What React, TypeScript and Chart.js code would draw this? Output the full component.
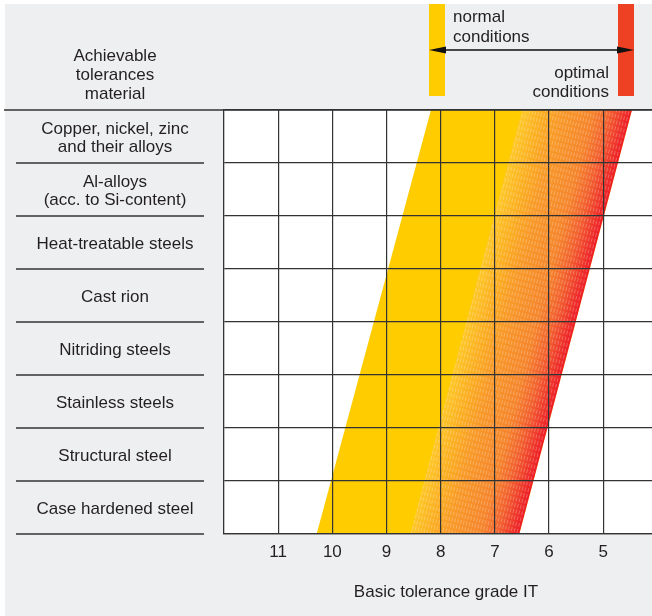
import React, { useEffect, useRef } from 'react';
import { Chart, registerables } from 'chart.js';

Chart.register(...registerables);

// ---------- data ----------
const materials: string[][] = [
  ['Copper, nickel, zinc', 'and their alloys'],
  ['Al-alloys', '(acc. to Si-content)'],
  ['Heat-treatable steels'],
  ['Cast rion'],
  ['Nitriding steels'],
  ['Stainless steels'],
  ['Structural steel'],
  ['Case hardened steel'],
];
const headerLines = ['Achievable', 'tolerances', 'material'];
const itGrades = [11, 10, 9, 8, 7, 6, 5];
const xAxisTitle = 'Basic tolerance grade IT';
const normalLabel = ['normal', 'conditions'];
const optimalLabel = ['optimal', 'conditions'];

// band edges (IT grade) at the top (row edge 0) and bottom (row edge 8) of the grid
const bandRowEdges = [0, 8];
const normalLeftEdge = [8.18, 10.29];
const gradientStartEdge = [6.5, 8.56];
const optimalRightEdge = [4.47, 6.55];

// ---------- styling ----------
const FONT = '17px "Liberation Sans", Arial, Helvetica, sans-serif';
const TEXT = '#231f20';
const LINE = '#333333';
const BG = '#eeeff1';
const YELLOW = '#ffcc00';
const RED = '#ee4023';

const poly = (left: number[], right: number[]) => [
  { x: left[0], y: bandRowEdges[0] },
  { x: right[0], y: bandRowEdges[0] },
  { x: right[1], y: bandRowEdges[1] },
  { x: left[1], y: bandRowEdges[1] },
];

function edgeGeometry(chart: any) {
  const xs = chart.scales.x;
  const ys = chart.scales.y;
  const ax = xs.getPixelForValue(gradientStartEdge[0]);
  const ay = ys.getPixelForValue(bandRowEdges[0]);
  const bx = xs.getPixelForValue(optimalRightEdge[0]);
  const ex = xs.getPixelForValue(optimalRightEdge[1]) - bx;
  const ey = ys.getPixelForValue(bandRowEdges[1]) - ay;
  let nx = ey;
  let ny = -ex;
  const len = Math.hypot(nx, ny) || 1;
  nx /= len;
  ny /= len;
  const d = (bx - ax) * nx;
  return { ax, ay, nx, ny, d, angle: Math.atan2(-ex, ey) };
}

const gradientFill = (c: any) => {
  const chart = c.chart;
  if (!chart.chartArea || !chart.scales.x || !chart.scales.y) return '#f7941d';
  const { ax, ay, nx, ny, d } = edgeGeometry(chart);
  const g = chart.ctx.createLinearGradient(ax, ay, ax + nx * d, ay + ny * d);
  g.addColorStop(0, '#fec828');
  g.addColorStop(0.2, '#fbad22');
  g.addColorStop(0.35, '#f89a28');
  g.addColorStop(0.65, '#f5852d');
  g.addColorStop(0.8, '#f2622f');
  g.addColorStop(0.95, '#ee2d2a');
  g.addColorStop(1, '#ed1c24');
  return g;
};

const hatchFill = (c: any) => {
  const chart = c.chart;
  if (!chart.chartArea || !chart.scales.x || !chart.scales.y) return 'rgba(255,255,255,0)';
  const { angle } = edgeGeometry(chart);
  const tile = document.createElement('canvas');
  tile.width = 3;
  tile.height = 6;
  const tctx = tile.getContext('2d')!;
  tctx.fillStyle = 'rgba(255,255,255,0.25)';
  tctx.fillRect(0, 0, 1, 4);
  const pat = chart.ctx.createPattern(tile, 'repeat');
  if (pat && typeof DOMMatrix !== 'undefined') {
    pat.setTransform(new DOMMatrix().rotate((angle * 180) / Math.PI));
  }
  return pat || 'rgba(255,255,255,0)';
};

const panelPlugin = {
  id: 'tolerancePanel',
  beforeDraw(chart: any) {
    const { ctx, width, height, chartArea } = chart;
    ctx.save();
    ctx.fillStyle = '#ffffff';
    ctx.fillRect(0, 0, width, height);
    ctx.fillStyle = BG;
    ctx.fillRect(5, 4, width - 5, height - 4);
    ctx.fillStyle = '#ffffff';
    ctx.fillRect(chartArea.left, chartArea.top, chartArea.right - chartArea.left, chartArea.bottom - chartArea.top);
    ctx.restore();
  },
  afterDraw(chart: any) {
    const { ctx, chartArea } = chart;
    const ys = chart.scales.y;
    ctx.save();
    // top line
    ctx.strokeStyle = LINE;
    ctx.lineWidth = 1.3;
    ctx.beginPath();
    ctx.moveTo(4, chartArea.top);
    ctx.lineTo(chart.width, chartArea.top);
    ctx.stroke();
    // label separators
    for (let i = 1; i <= materials.length; i++) {
      const y = ys.getPixelForValue(i);
      ctx.beginPath();
      ctx.moveTo(16, y);
      ctx.lineTo(204, y);
      ctx.stroke();
    }
    // labels
    ctx.font = FONT;
    ctx.fillStyle = TEXT;
    ctx.textAlign = 'center';
    ctx.textBaseline = 'middle';
    materials.forEach((lines, i) => {
      const cy = ys.getPixelForValue(i + 0.5) + 1.5;
      const lh = 18;
      lines.forEach((t, j) => {
        ctx.fillText(t, 115, cy + (j - (lines.length - 1) / 2) * lh);
      });
    });
    headerLines.forEach((t, j) => ctx.fillText(t, 115, 56 + j * 19));
    // x-axis title
    ctx.fillText(xAxisTitle, 446, 592);

    // legend bars
    ctx.fillStyle = YELLOW;
    ctx.fillRect(429, 4, 16, 92);
    ctx.fillStyle = RED;
    ctx.fillRect(618, 4, 16, 92);
    // arrow
    const ay = 50;
    ctx.strokeStyle = '#111';
    ctx.lineWidth = 1.3;
    ctx.beginPath();
    ctx.moveTo(440, ay);
    ctx.lineTo(622, ay);
    ctx.stroke();
    ctx.fillStyle = '#111';
    ctx.beginPath();
    ctx.moveTo(429, ay);
    ctx.lineTo(446, ay - 3.5);
    ctx.lineTo(446, ay + 3.5);
    ctx.closePath();
    ctx.fill();
    ctx.beginPath();
    ctx.moveTo(634, ay);
    ctx.lineTo(617, ay - 3.5);
    ctx.lineTo(617, ay + 3.5);
    ctx.closePath();
    ctx.fill();
    // legend texts
    ctx.fillStyle = TEXT;
    ctx.textAlign = 'left';
    ctx.fillText(normalLabel[0], 453, 17);
    ctx.fillText(normalLabel[1], 453, 37);
    ctx.textAlign = 'right';
    ctx.fillText(optimalLabel[0], 609, 73);
    ctx.fillText(optimalLabel[1], 609, 92);
    ctx.restore();
  },
};

export default function App() {
  const ref = useRef<HTMLCanvasElement | null>(null);
  useEffect(() => {
    if (!ref.current) return;
    const chart = new Chart(ref.current, {
      type: 'line',
      data: {
        datasets: [
          {
            label: 'optimal hatch',
            data: poly(gradientStartEdge, optimalRightEdge),
            fill: 'shape',
            backgroundColor: hatchFill,
            borderWidth: 0,
            pointRadius: 0,
            order: 1,
          } as any,
          {
            label: 'optimal conditions',
            data: poly(gradientStartEdge, optimalRightEdge),
            fill: 'shape',
            backgroundColor: gradientFill,
            borderWidth: 0,
            pointRadius: 0,
            order: 2,
          } as any,
          {
            label: 'normal conditions',
            data: poly(normalLeftEdge, optimalRightEdge),
            fill: 'shape',
            backgroundColor: YELLOW,
            borderWidth: 0,
            pointRadius: 0,
            order: 3,
          } as any,
        ],
      },
      options: {
        responsive: false,
        animation: false,
        devicePixelRatio: 1,
        events: [],
        layout: { padding: { left: 224, top: 110, right: 0, bottom: 0 } },
        plugins: {
          legend: { display: false },
          tooltip: { enabled: false },
        },
        scales: {
          x: {
            type: 'linear',
            min: 4.1,
            max: 12,
            reverse: true,
            afterBuildTicks: (s: any) => {
              s.ticks = itGrades.map((v) => ({ value: v }));
            },
            afterFit: (s: any) => {
              s.height = 82;
            },
            grid: { color: LINE, lineWidth: 1.2, drawTicks: false, z: 1 },
            border: { display: true, color: LINE, width: 1.3, z: 1 },
            ticks: {
              color: TEXT,
              font: { family: '"Liberation Sans", Arial, sans-serif', size: 17 },
              padding: 8,
              maxRotation: 0,
              autoSkip: false,
              callback: (v: any) => String(v),
            },
          },
          y: {
            type: 'linear',
            min: 0,
            max: 8,
            reverse: true,
            afterBuildTicks: (s: any) => {
              s.ticks = materials.map((_, i) => ({ value: i })).concat([{ value: materials.length }]);
            },
            afterFit: (s: any) => {
              s.width = 0;
            },
            grid: { color: LINE, lineWidth: 1.2, drawTicks: false, z: 1 },
            border: { display: true, color: LINE, width: 1.3, z: 1 },
            ticks: { display: false },
          },
        },
      },
      plugins: [panelPlugin],
    });
    return () => chart.destroy();
  }, []);
  return (
    <div style={{ position: 'fixed', left: 0, top: 0, width: 652, height: 616 }}>
      <canvas ref={ref} width={652} height={616} style={{ display: 'block', width: 652, height: 616 }} />
    </div>
  );
}
